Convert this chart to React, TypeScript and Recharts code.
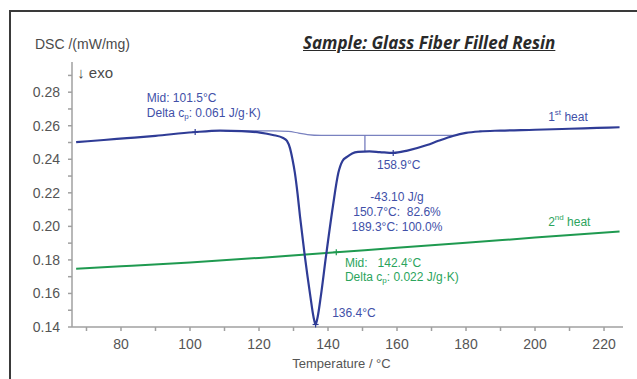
import { LineChart, Line, XAxis, YAxis, ReferenceDot } from "recharts";

// 1st heat curve (°C, mW/mg)
const heat1Temp = [67, 75, 81.7, 90, 100.9, 108.7, 115, 120.3, 124, 127, 128.1, 129, 129.7, 130.4, 131.2, 131.9, 133.3, 134.9, 135.8, 136.4, 137.0, 137.9, 139.4, 141.4, 143.0, 144.2, 145.5, 147, 148.7, 152, 155, 158.9, 163, 168.7, 172, 176.2, 180, 184, 190, 200, 210, 218, 224.5];
const heat1Val = [0.2502, 0.2515, 0.2526, 0.254, 0.2561, 0.2571, 0.2568, 0.2559, 0.2545, 0.2527, 0.251, 0.2465, 0.24, 0.2319, 0.219, 0.2057, 0.1819, 0.1581, 0.146, 0.1415, 0.146, 0.1581, 0.1819, 0.2117, 0.2319, 0.239, 0.2414, 0.2435, 0.2444, 0.2447, 0.2443, 0.2438, 0.2452, 0.2485, 0.251, 0.2539, 0.2557, 0.2566, 0.2571, 0.2576, 0.2582, 0.2587, 0.2591];

// integration baseline under the peak
const baseTemp = [110, 124, 128.5, 131.5, 134, 138, 177.5];
const baseVal = [0.2569, 0.2569, 0.2566, 0.2556, 0.2547, 0.2542, 0.2542];

// partial area marker at 150.7 °C
const splitTemp = [150.7, 150.7];
const splitVal = [0.2542, 0.2446];

// 2nd heat curve
const heat2Temp = [67, 80, 100, 120, 142.4, 160, 180, 200, 224.5];
const heat2Val = [0.1748, 0.1762, 0.1785, 0.1812, 0.1846, 0.1872, 0.1902, 0.1933, 0.197];

const xTicks = [70, 80, 90, 100, 110, 120, 130, 140, 150, 160, 170, 180, 190, 200, 210, 220];
const yTicks = [0.14, 0.15, 0.16, 0.17, 0.18, 0.19, 0.2, 0.21, 0.22, 0.23, 0.24, 0.25, 0.26, 0.27, 0.28, 0.29];

// evaluated points marked with a small cross
const markTemp = [101.5, 158.9, 136.4, 142.4];
const markVal = [0.2562, 0.2438, 0.1415, 0.1846];
const markColor = ["#2f3c96", "#2f3c96", "#2f3c96", "#1f9a50"];

const BLUE = "#2f3c96";
const BLUE_TXT = "#4150a8";
const GREEN = "#1f9a50";
const GREEN_TXT = "#2ba45c";

type Note = { t: number; v: number; lines: React.ReactNode[]; color: string; anchor?: "start" | "middle"; lh?: number };

const notes: Note[] = [
  {
    t: 87.5, v: 0.2766, color: BLUE_TXT,
    lines: [
      "Mid: 101.5°C",
      <>Delta c<tspan dy={3} fontSize={8}>p</tspan><tspan dy={-3}>: 0.061 J/g·K)</tspan></>,
    ],
  },
  { t: 203.8, v: 0.2652, color: BLUE_TXT, lines: [<>1<tspan dy={-5} fontSize={8}>st</tspan><tspan dy={5}> heat</tspan></>] },
  { t: 154.2, v: 0.2367, color: BLUE_TXT, lines: ["158.9°C"] },
  { t: 160, v: 0.2177, color: BLUE_TXT, anchor: "middle", lines: ["-43.10 J/g", "150.7°C:  82.6%", "189.3°C: 100.0%"] },
  { t: 203.8, v: 0.2028, color: GREEN_TXT, lines: [<>2<tspan dy={-5} fontSize={8}>nd</tspan><tspan dy={5}> heat</tspan></>] },
  {
    t: 144.9, v: 0.1784, color: GREEN_TXT, lh: 14,
    lines: [
      "Mid:   142.4°C",
      <>Delta c<tspan dy={3} fontSize={8}>p</tspan><tspan dy={-3}>: 0.022 J/g·K)</tspan></>,
    ],
  },
  { t: 141.2, v: 0.1486, color: BLUE_TXT, lines: ["136.4°C"] },
];

const toPoints = (ts: number[], vs: number[]) => ts.map((t, i) => ({ t, v: vs[i] }));

const heat1 = toPoints(heat1Temp, heat1Val);
const baseline = toPoints(baseTemp, baseVal);
const split = toPoints(splitTemp, splitVal);
const heat2 = toPoints(heat2Temp, heat2Val);

const FONT = "'Liberation Sans', Arial, sans-serif";

export default function App() {
  return (
    <div style={{ position: "absolute", left: 0, top: 0, width: 637, height: 379, background: "#fff", overflow: "hidden", fontFamily: FONT }}>
      {/* frame */}
      <div style={{ position: "absolute", left: 9, top: 10, width: 640, height: 380, borderTop: "2px solid #3a3a3a", borderLeft: "2px solid #3a3a3a" }} />
      <div style={{ position: "absolute", left: 35, top: 36, fontSize: 14, color: "#4a4a4a" }}>DSC /(mW/mg)</div>
      <div
        style={{
          position: "absolute", left: 303, top: 31, fontSize: 17, fontWeight: 700, fontStyle: "italic",
          textDecoration: "underline", color: "#2a2a2a", fontFamily: "'Open Sans', sans-serif",
        }}
      >
        Sample: Glass Fiber Filled Resin
      </div>
      <div style={{ position: "absolute", left: 0, top: 0 }}>
        <LineChart width={637} height={379} margin={{ top: 62, right: 14, bottom: 22, left: 0 }}>
          <XAxis
            dataKey="t"
            type="number"
            domain={[65.8, 225.5]}
            ticks={xTicks}
            tickFormatter={(v: number) => (v % 20 === 0 ? String(v) : "")}
            allowDataOverflow
            height={30}
            tickSize={4}
            tickMargin={8}
            stroke="#a0a0a0"
            strokeWidth={1.5}
            tick={{ fill: "#555", fontSize: 14, fontFamily: FONT }}
            label={{ value: "Temperature / °C", position: "insideBottom", offset: -11, fill: "#555", fontSize: 13, fontFamily: FONT, dx: -6 }}
          />
          <YAxis
            dataKey="v"
            type="number"
            domain={[0.14, 0.298]}
            ticks={yTicks}
            tickFormatter={(v: number) => (Math.round(v * 100) % 2 === 0 ? v.toFixed(2) : "")}
            allowDataOverflow
            width={72}
            tickSize={4}
            tickMargin={8}
            stroke="#a0a0a0"
            strokeWidth={1.5}
            tick={{ fill: "#555", fontSize: 14, fontFamily: FONT }}
          />
          <Line data={baseline} dataKey="v" type="monotone" stroke="#7a82c0" strokeWidth={1.2} dot={false} isAnimationActive={false} />
          <Line data={split} dataKey="v" type="linear" stroke="#6a72b8" strokeWidth={1.2} dot={false} isAnimationActive={false} />
          <Line data={heat2} dataKey="v" type="monotone" stroke={GREEN} strokeWidth={2} dot={false} isAnimationActive={false} />
          <Line data={heat1} dataKey="v" type="monotone" stroke={BLUE} strokeWidth={2.2} dot={false} isAnimationActive={false} />
          {markTemp.map((t, i) => (
            <ReferenceDot
              key={"m" + i}
              x={t}
              y={markVal[i]}
              r={0}
              shape={(p: any) => (
                <g stroke={markColor[i]} strokeWidth={1.2}>
                  <line x1={p.cx - 3} x2={p.cx + 3} y1={p.cy} y2={p.cy} />
                  <line x1={p.cx} x2={p.cx} y1={p.cy - 3} y2={p.cy + 3} />
                </g>
              )}
            />
          ))}
          <ReferenceDot
            x={67.3}
            y={0.292}
            r={0}
            ifOverflow="visible"
            shape={(p: any) => (
              <text x={p.cx} y={p.cy} dominantBaseline="central" fontSize={15} fill="#4a4a4a" fontFamily={FONT}>
                ↓ exo
              </text>
            )}
          />
          {notes.map((n, i) => (
            <ReferenceDot
              key={"n" + i}
              x={n.t}
              y={n.v}
              r={0}
              ifOverflow="visible"
              shape={(p: any) => (
                <text
                  fontSize={12}
                  fill={n.color}
                  fontFamily={FONT}
                  textAnchor={n.anchor ?? "start"}
                  dominantBaseline="central"
                  style={{ whiteSpace: "pre" }}
                >
                  {n.lines.map((ln, j) => (
                    <tspan key={j} x={p.cx} y={p.cy + j * (n.lh ?? 15)}>
                      {ln}
                    </tspan>
                  ))}
                </text>
              )}
            />
          ))}
        </LineChart>
      </div>
    </div>
  );
}
